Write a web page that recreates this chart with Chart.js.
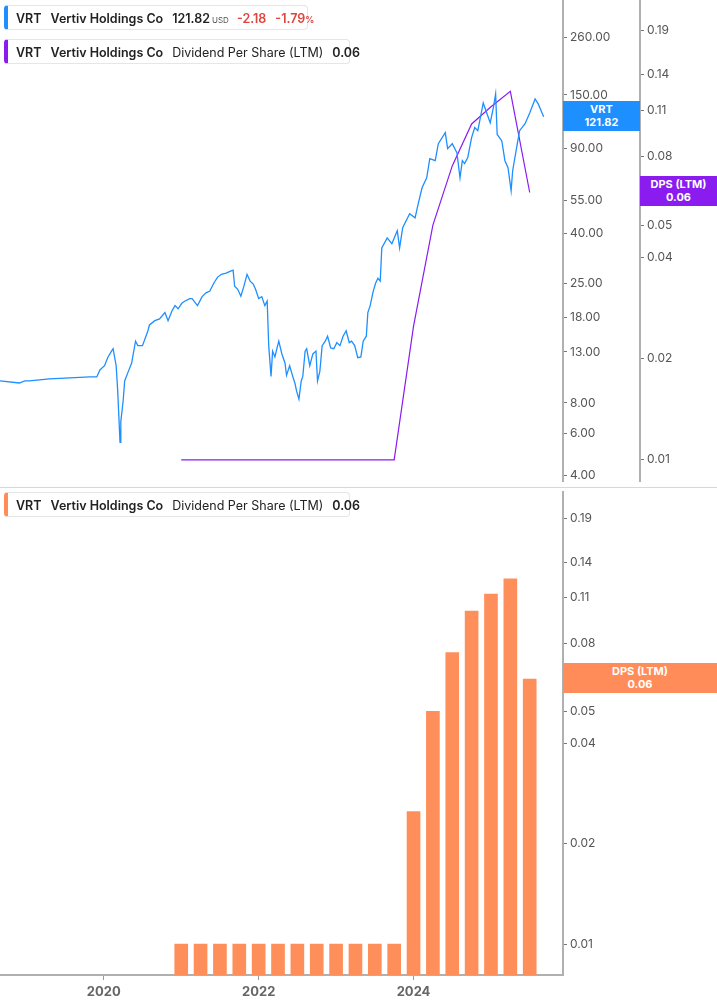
<!DOCTYPE html>
<html><head><meta charset="utf-8">
<script src="https://cdn.jsdelivr.net/npm/chart.js@4.4.1/dist/chart.umd.min.js"></script>
<style>
body{margin:0;background:#fff;font-family:Inter,"Noto Sans",sans-serif;overflow:hidden;}
#top{position:absolute;left:0;top:-9px;width:717px;height:509px;}
#bot{position:absolute;left:0;top:482px;width:717px;height:523px;background:#fff;}
.sep{position:absolute;left:0;top:487px;width:717px;height:1px;background:#d8d8d8;}
.leg{position:absolute;left:4px;height:25px;background:#fff;border:1px solid #e6e6e6;border-left:4px solid;border-radius:4px;font-size:12.5px;line-height:25px;color:#222;padding:0 8px 0 8px;white-space:nowrap;box-sizing:border-box;}
.leg b{font-weight:600;margin-right:9px;}
.leg span{margin-right:9px;}
.tag{position:absolute;color:#fff;font-size:11px;font-weight:700;text-align:center;line-height:13px;padding-top:2px;box-sizing:border-box;}
</style></head><body>
<div id="top"><canvas id="c1"></canvas></div>
<div id="bot"><canvas id="c2"></canvas></div>
<div class="sep"></div>
<div class="leg" style="top:5px;width:304px;border-left-color:#1e8fff"><b>VRT</b><b>Vertiv Holdings Co</b><b style="margin-right:2px">121.82</b><span style="font-size:8px;color:#555;margin-right:8px">USD</span><b style="color:#e0443c">-2.18</b><b style="color:#e0443c;margin-right:0">-1.79<span style="font-size:9px">%</span></b></div>
<div class="leg" style="top:39px;width:346px;border-left-color:#8a1cf0"><b>VRT</b><b>Vertiv Holdings Co</b><span>Dividend Per Share (LTM)</span><b>0.06</b></div>
<div class="leg" style="top:492px;width:346px;border-left-color:#ff8c59"><b>VRT</b><b>Vertiv Holdings Co</b><span>Dividend Per Share (LTM)</span><b>0.06</b></div>
<div class="tag" style="left:563px;top:101px;width:77px;height:30px;background:#1e8fff">VRT<br>121.82</div>
<div class="tag" style="left:640px;top:176px;width:77px;height:30px;background:#8a1cf0">DPS (LTM)<br>0.06</div>
<div class="tag" style="left:563px;top:663px;width:154px;height:30px;background:#ff8c59">DPS (LTM)<br>0.06</div>
<script>
const priceDates=[2018.66,2018.91,2018.98,2019.04,2019.30,2019.56,2019.82,2019.91,2019.95,2020.01,2020.05,2020.10,2020.12,2020.16,2020.18,2020.21,2020.22,2020.25,2020.27,2020.31,2020.36,2020.41,2020.44,2020.48,2020.50,2020.57,2020.59,2020.66,2020.72,2020.79,2020.83,2020.88,2020.92,2020.96,2021.01,2021.05,2021.11,2021.14,2021.21,2021.27,2021.32,2021.37,2021.42,2021.47,2021.52,2021.58,2021.63,2021.67,2021.69,2021.73,2021.77,2021.81,2021.85,2021.89,2021.93,2021.96,2022.00,2022.04,2022.08,2022.11,2022.13,2022.16,2022.18,2022.21,2022.24,2022.26,2022.30,2022.34,2022.36,2022.40,2022.44,2022.47,2022.49,2022.52,2022.55,2022.57,2022.60,2022.62,2022.66,2022.70,2022.74,2022.76,2022.79,2022.82,2022.86,2022.89,2022.93,2022.97,2023.01,2023.05,2023.09,2023.13,2023.17,2023.20,2023.24,2023.28,2023.32,2023.35,2023.39,2023.41,2023.44,2023.48,2023.51,2023.54,2023.57,2023.59,2023.66,2023.72,2023.79,2023.82,2023.86,2023.95,2024.02,2024.06,2024.11,2024.17,2024.21,2024.28,2024.32,2024.41,2024.44,2024.50,2024.56,2024.60,2024.63,2024.66,2024.70,2024.75,2024.79,2024.83,2024.90,2024.95,2024.99,2025.03,2025.06,2025.08,2025.14,2025.18,2025.22,2025.26,2025.28,2025.34,2025.37,2025.44,2025.50,2025.57,2025.61,2025.66,2025.68];
const priceValues=[9.86,9.67,9.86,9.86,10.05,10.15,10.25,10.25,10.95,11.4,12.3,13.1,13.4,11.4,8.95,5.5,6.7,8.15,9.86,10.65,11.7,14.4,13.8,13.8,13.8,15.9,16.8,17.5,17.8,18.9,17.5,19.2,20.2,19.6,20.7,21.1,21.6,21.6,20.2,22.0,22.8,23.2,25,26.5,27.2,27.5,28.0,28.3,24.3,23.6,22.1,24.3,27.2,25.5,24.8,23.6,21.6,22.0,20.2,21.1,13.8,10.3,13.1,12.4,13.6,14.4,12.75,11.7,10.4,11.4,10.3,9.6,8.95,8.3,9.86,10.3,13.1,13.4,11.4,12.75,13.1,9.86,10.8,13.8,14.4,15.1,13.5,13.4,14.2,13.8,15.1,15.9,14.2,14.4,13.8,12.3,12.4,14.4,15.1,18.9,20.2,23.2,25,26.2,25.5,35.0,38.5,36.4,41.2,35.0,42.4,48.4,46.6,53.2,62,68.2,81.8,80.2,94.3,104.8,90,94.3,86.6,68.2,80.2,78,82.6,99.9,110,106.7,139,125,115,132.6,151.5,103,96.8,80.2,75,60.2,72.9,94.3,106.7,114,126.3,144.3,137.7,126.3,121.82];
const dpsDates=[2021.0,2021.25,2021.5,2021.75,2022.0,2022.25,2022.5,2022.75,2023.0,2023.25,2023.5,2023.75,2024.0,2024.25,2024.5,2024.75,2025.0,2025.25,2025.5];
const dpsValues=[0.01,0.01,0.01,0.01,0.01,0.01,0.01,0.01,0.01,0.01,0.01,0.01,0.025,0.05,0.075,0.1,0.1125,0.125,0.0625];
const priceTicks=[4,6,8,13,18,25,40,55,90,150,260];
const dpsTicks=[0.01,0.02,0.04,0.05,0.08,0.11,0.14,0.19];
const xTicks=[2020,2022,2024];

const X_MIN=2018.66, X_MAX=2025.93;
const axisCol='#b0b0b0';
function yAxis(ticks,min,max,w,weight){
  return {type:'logarithmic',position:'right',min:min,max:max,weight:weight,
    afterBuildTicks:s=>{s.ticks=ticks.map(v=>({value:v}));},
    afterFit:s=>{s.width=w;},
    border:{display:true,color:axisCol,width:2},
    grid:{drawOnChartArea:false,color:'#777',tickLength:4,lineWidth:1},
    ticks:{color:'#555',font:{family:'Inter',size:12},padding:3,callback:v=>Number(v).toFixed(2)}};
}
Chart.defaults.animation=false;
new Chart(document.getElementById('c1'),{
  type:'line',
  data:{datasets:[
    {data:priceDates.map((d,i)=>({x:d,y:priceValues[i]})),yAxisID:'y',borderColor:'#1e8fff',borderWidth:1.3,pointRadius:0,tension:0},
    {data:dpsDates.map((d,i)=>({x:d,y:dpsValues[i]})),yAxisID:'y1',borderColor:'#8a1cf0',borderWidth:1.2,pointRadius:0,tension:0}
  ]},
  options:{responsive:true,maintainAspectRatio:false,layout:{padding:0},
    plugins:{legend:{display:false},tooltip:{enabled:false}},
    scales:{
      x:{type:'linear',min:X_MIN,max:X_MAX,display:false},
      y:yAxis(priceTicks,3.5,366,77,0),
      y1:yAxis(dpsTicks,0.00814,0.232,77,1)
    }}
});
new Chart(document.getElementById('c2'),{
  type:'bar',
  data:{datasets:[{data:dpsDates.map((d,i)=>({x:d,y:dpsValues[i]})),backgroundColor:'#ff8f5a',barThickness:13}]},
  options:{responsive:true,maintainAspectRatio:false,layout:{padding:{top:2}},
    plugins:{legend:{display:false},tooltip:{enabled:false}},
    scales:{
      x:{type:'linear',min:X_MIN,max:X_MAX,offset:false,
        afterBuildTicks:s=>{s.ticks=xTicks.map(v=>({value:v}));},
        afterFit:s=>{s.height=30;},
        border:{display:true,color:axisCol,width:2},
        grid:{drawOnChartArea:false,offset:false,color:'#999',tickLength:5},
        ticks:{color:'#666',font:{family:'Inter',size:13,weight:'bold'},padding:4,callback:v=>String(v)}},
      y:yAxis(dpsTicks,0.00808,0.2273,154,0)
    }}
});
</script></body></html>
